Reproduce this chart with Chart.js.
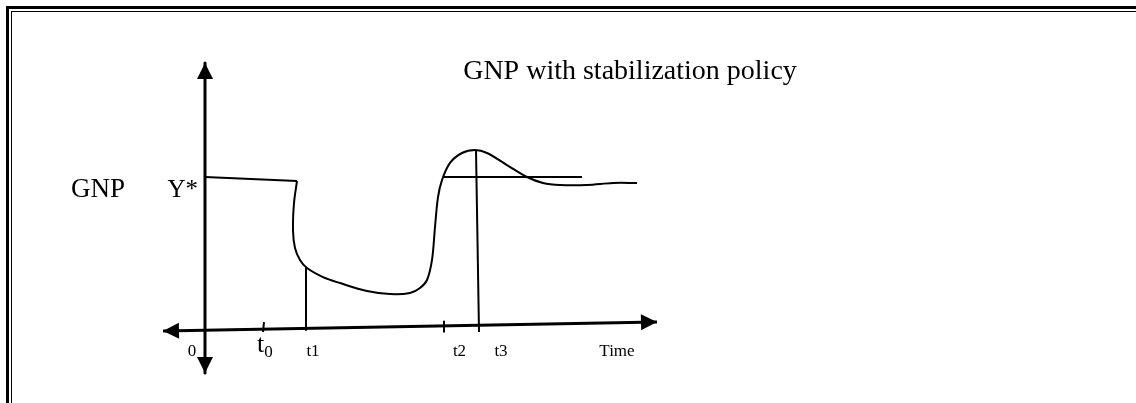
<!DOCTYPE html>
<html>
<head>
<meta charset="utf-8">
<script src="https://cdn.jsdelivr.net/npm/chart.js@4.4.1/dist/chart.umd.min.js"></script>
<style>
html,body{margin:0;padding:0;background:#fff;}
#wrap{position:relative;width:1136px;height:403px;overflow:hidden;background:#fff;}
#b1{position:absolute;left:6px;top:6px;width:2000px;height:1000px;border-top:3px solid #000;border-left:3px solid #000;}
#b2{position:absolute;left:11px;top:11px;width:2000px;height:1000px;border-top:1px solid #000;border-left:1px solid #000;}
#c{position:absolute;left:0;top:0;}
</style>
</head>
<body>
<div id="wrap">
  <div id="b1"></div>
  <div id="b2"></div>
  <canvas id="c" width="1136" height="403" style="width:1136px;height:403px"></canvas>
</div>
<script>
// ---- Data (time units from the GNP axis; GNP normalised so that Y* = 1) ----
const gnpPathX = [0.92, 0.89, 0.88, 0.90, 0.95, 1.02, 1.18, 1.35, 1.62, 1.85, 2.05, 2.15, 2.22, 2.27, 2.30, 2.33, 2.37, 2.45, 2.57, 2.70, 2.82, 3.02, 3.22, 3.38, 3.55, 3.82, 4.08, 4.32];
const gnpPathY = [0.974, 0.830, 0.654, 0.536, 0.458, 0.405, 0.346, 0.307, 0.255, 0.235, 0.242, 0.275, 0.327, 0.458, 0.673, 0.869, 0.980, 1.092, 1.157, 1.176, 1.157, 1.078, 1.000, 0.961, 0.948, 0.948, 0.961, 0.961];

const initialX = [0, 0.92];
const initialY = [1.0, 0.974];

const targetX = [2.38, 3.77];
const targetY = [1.0, 1.0];

const timeAxisX = [-0.42, 4.52];
const timeAxisY = [-0.007, 0.052];

const gnpAxisX = [0, 0];
const gnpAxisY = [1.745, -0.281];

const t1LineX = [1.01, 1.01];
const t1LineY = [0.405, 0];
const t3LineX = [2.71, 2.74];
const t3LineY = [1.176, -0.013];
const t2TickX = [2.39, 2.39];
const t2TickY = [0.055, -0.012];
const t0TickX = [0.59, 0.58];
const t0TickY = [0.052, -0.013];

const tickLabels = ['0', 't1', 't2', 't3', 'Time'];
const tickLabelX = [-0.13, 1.08, 2.545, 2.96, 4.12];

const titleText = 'GNP with stabilization policy';
const yName = 'GNP';
const yStarName = 'Y*';

// ---- helpers ----
const pts = (xs, ys) => xs.map((x, i) => ({x: x, y: ys[i]}));
const SERIF = '"Liberation Serif", "Times New Roman", "DejaVu Serif", serif';

function seg(xs, ys, w, extra) {
  return Object.assign({
    data: pts(xs, ys), showLine: true, borderColor: '#000', backgroundColor: '#000',
    borderWidth: w, pointRadius: 0, tension: 0, fill: false
  }, extra || {});
}

const arrowPlugin = {
  id: 'arrows',
  afterDatasetsDraw(chart) {
    const ctx = chart.ctx;
    chart.data.datasets.forEach((ds, i) => {
      if (!ds.arrowStart && !ds.arrowEnd) return;
      const el = chart.getDatasetMeta(i).data;
      const draw = (tip, from) => {
        const dx = tip.x - from.x, dy = tip.y - from.y;
        const L = Math.hypot(dx, dy) || 1;
        const ux = dx / L, uy = dy / L;
        const len = 16, hw = 8;
        const bx = tip.x - ux * len, by = tip.y - uy * len;
        ctx.save();
        ctx.fillStyle = '#000';
        ctx.beginPath();
        ctx.moveTo(tip.x, tip.y);
        ctx.lineTo(bx - uy * hw, by + ux * hw);
        ctx.lineTo(bx + uy * hw, by - ux * hw);
        ctx.closePath();
        ctx.fill();
        ctx.restore();
      };
      if (ds.arrowEnd) draw(el[el.length - 1], el[el.length - 2]);
      if (ds.arrowStart) draw(el[0], el[1]);
    });
  }
};

const textPlugin = {
  id: 'texts',
  afterDraw(chart) {
    const ctx = chart.ctx;
    const xs = chart.scales.x, ys = chart.scales.y;
    const X = v => xs.getPixelForValue(v), Y = v => ys.getPixelForValue(v);
    ctx.save();
    ctx.fillStyle = '#000';
    ctx.textBaseline = 'alphabetic';
    // title
    ctx.font = '28px ' + SERIF;
    ctx.textAlign = 'center';
    ctx.fillText(titleText, X(4.25), Y(1.641));
    // y labels
    ctx.font = '27px ' + SERIF;
    ctx.textAlign = 'left';
    ctx.fillText(yName, X(-1.34), Y(0.869));
    ctx.font = '25px ' + SERIF;
    ctx.textAlign = 'right';
    ctx.fillText(yStarName, X(-0.07), Y(0.869));
    // tick labels
    ctx.font = '17px ' + SERIF;
    ctx.textAlign = 'center';
    tickLabels.forEach((t, i) => ctx.fillText(t, X(tickLabelX[i]), Y(-0.17)));
    // t0 with subscript
    ctx.textAlign = 'left';
    ctx.font = '26px ' + SERIF;
    const tx = X(0.52);
    ctx.fillText('t', tx, Y(-0.144));
    const tw = ctx.measureText('t').width;
    ctx.font = '17px ' + SERIF;
    ctx.fillText('0', tx + tw, Y(-0.176));
    ctx.restore();
  }
};

new Chart(document.getElementById('c').getContext('2d'), {
  type: 'scatter',
  data: {
    datasets: [
      seg(gnpAxisX, gnpAxisY, 3, {arrowStart: true, arrowEnd: true}),
      seg(timeAxisX, timeAxisY, 3, {arrowStart: true, arrowEnd: true}),
      seg(initialX, initialY, 2),
      seg(gnpPathX, gnpPathY, 2, {tension: 0.35}),
      seg(targetX, targetY, 2),
      seg(t1LineX, t1LineY, 2),
      seg(t3LineX, t3LineY, 2),
      seg(t2TickX, t2TickY, 2),
      seg(t0TickX, t0TickY, 2)
    ]
  },
  options: {
    responsive: false,
    animation: false,
    events: [],
    layout: {padding: 0},
    plugins: {legend: {display: false}, tooltip: {enabled: false}, title: {display: false}},
    scales: {
      x: {type: 'linear', display: false, min: -2.05, max: 9.31},
      y: {type: 'linear', display: false, min: -0.477, max: 2.157}
    },
    elements: {point: {radius: 0}, line: {borderCapStyle: 'butt', borderJoinStyle: 'round'}}
  },
  plugins: [arrowPlugin, textPlugin]
});
</script>
</body>
</html>
